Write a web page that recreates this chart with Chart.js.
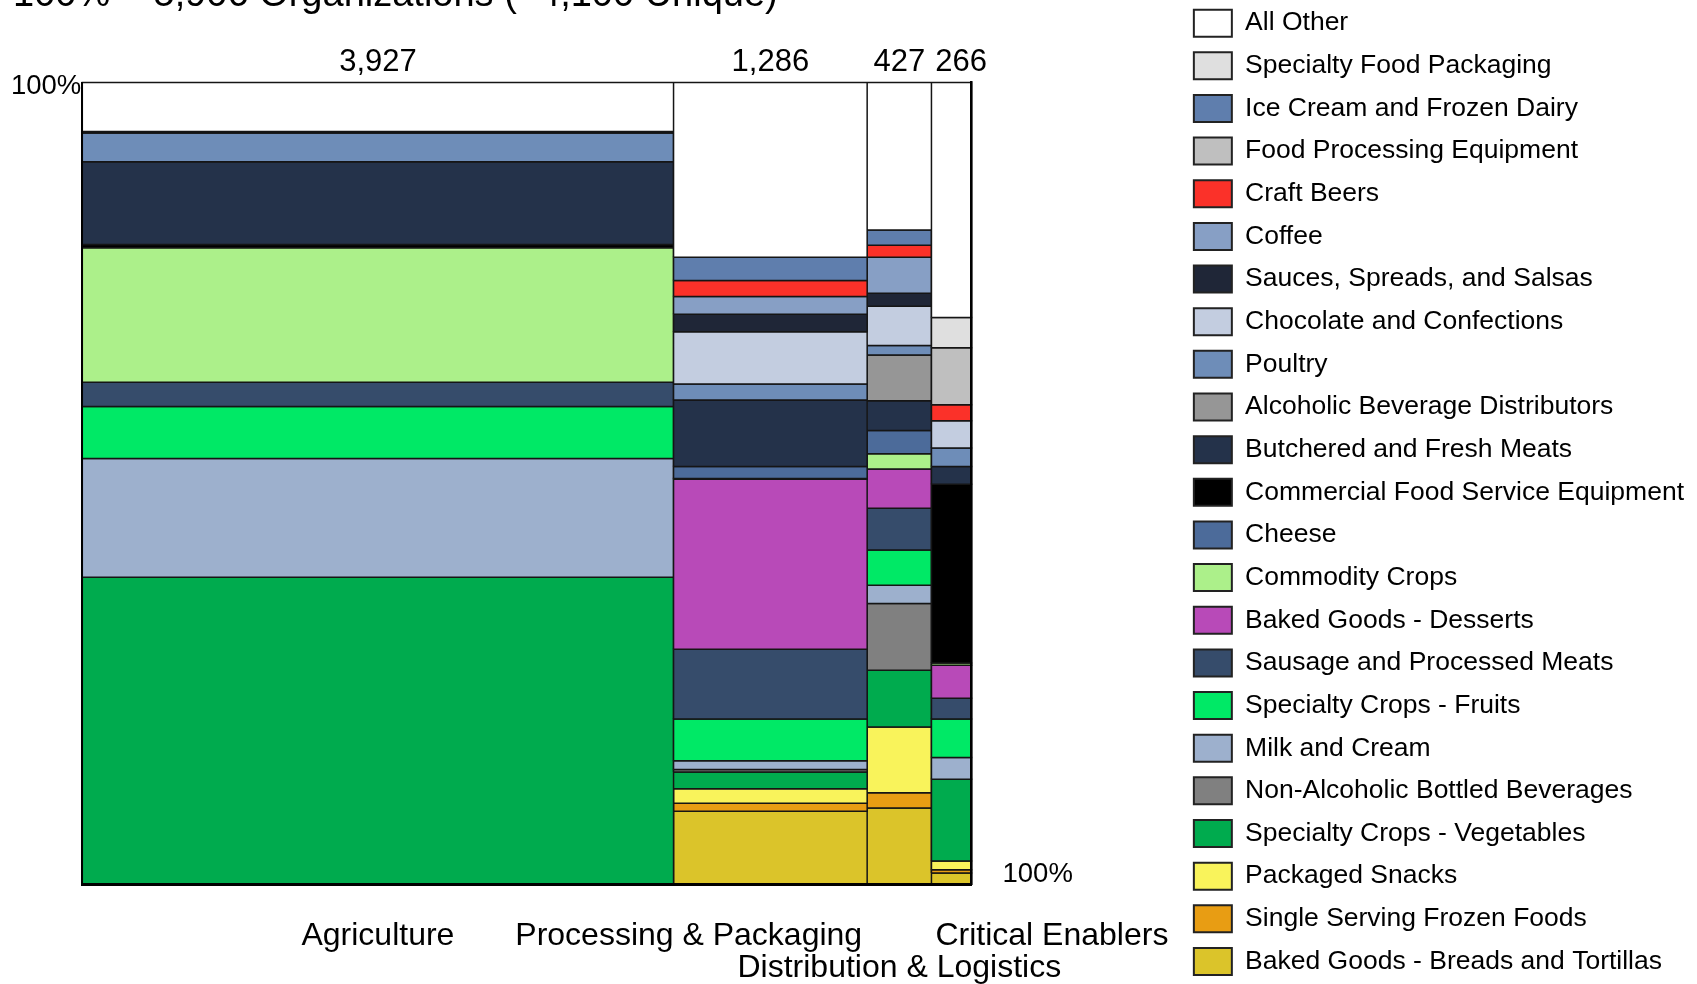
<!DOCTYPE html>
<html>
<head>
<meta charset="utf-8">
<title>Organizations by sector and product category</title>
<script src="https://cdn.jsdelivr.net/npm/chart.js@4.4.1/dist/chart.umd.min.js"></script>
<style>
  html, body { margin: 0; padding: 0; background: #fff; overflow: hidden; }
  #wrap { position: absolute; left: 0; top: -8px; width: 1697px; height: 1000px; }
</style>
</head>
<body>
<div id="wrap"><canvas id="mekko" width="1697" height="1000"></canvas></div>
<script>
// ---- data ----
const titleText = '100% = 5,906 Organizations (~4,100 Unique)';
const sectors = ['Agriculture', 'Processing & Packaging', 'Distribution & Logistics', 'Critical Enablers'];
const orgCounts = [3927, 1286, 427, 266];

// legend order (top of each column first)
const categories = [
  'All Other',
  'Specialty Food Packaging',
  'Ice Cream and Frozen Dairy',
  'Food Processing Equipment',
  'Craft Beers',
  'Coffee',
  'Sauces, Spreads, and Salsas',
  'Chocolate and Confections',
  'Poultry',
  'Alcoholic Beverage Distributors',
  'Butchered and Fresh Meats',
  'Commercial Food Service Equipment',
  'Cheese',
  'Commodity Crops',
  'Baked Goods - Desserts',
  'Sausage and Processed Meats',
  'Specialty Crops - Fruits',
  'Milk and Cream',
  'Non-Alcoholic Bottled Beverages',
  'Specialty Crops - Vegetables',
  'Packaged Snacks',
  'Single Serving Frozen Foods',
  'Baked Goods - Breads and Tortillas'
];

// share of each sector (%), same order as categories
const agriculture  = [6.1, 0, 0, 0, 0, 0, 0.2, 0, 3.6, 0, 10.3, 0.4, 0, 16.8, 0, 3.0, 6.5, 14.8, 0, 38.3, 0, 0, 0];
const processing   = [21.8, 0, 2.9, 0, 2.0, 2.2, 2.2, 6.5, 2.0, 0, 8.3, 0, 1.5, 0.1, 21.2, 8.7, 5.2, 1.1, 0.3, 2.1, 1.8, 1.0, 9.1];
const distribution = [18.4, 0, 1.9, 0, 1.5, 4.5, 1.6, 4.9, 1.2, 5.7, 3.7, 0, 2.9, 1.9, 4.9, 5.2, 4.4, 2.3, 8.3, 7.1, 8.2, 1.9, 9.5];
const enablers     = [29.3, 3.8, 0, 7.1, 2.0, 0, 0, 3.4, 2.3, 0, 2.2, 22.3, 0, 0.3, 4.1, 2.6, 4.8, 2.7, 0, 10.2, 1.1, 0.4, 1.4];

const colors = [
  '#ffffff', '#dfdfdf', '#5f7ead', '#bfbfbf', '#fb3129', '#879fc5', '#1f2637', '#c3cde0',
  '#6e8db8', '#969696', '#24324a', '#000000', '#4c6b9a', '#acf08a', '#b84ab8', '#364c6b',
  '#00e966', '#9db0cd', '#808080', '#00ab4e', '#f9f35b', '#e89d13', '#dbc42a'
];

// ---- layout (canvas px, canvas sits 8px above the page) ----
const CANVAS_H = 1000;
const PAD_TOP = 2;
const PLOT_LEFT = 82.3;
const PLOT_TOP = 90.5;
const PLOT_BOTTOM = 892.2;
const PLOT_RIGHT = 971.5;
const FONT = "'Liberation Sans', Arial, sans-serif";

const shares = [agriculture, processing, distribution, enablers];
const xStarts = [];
let totalOrgs = 0;
for (let c = 0; c < orgCounts.length; c++) {
    xStarts.push(totalOrgs);
    totalOrgs += orgCounts[c];
}

// one dataset per category, one closed rectangle per sector
const datasets = categories.map(function (name, k) {
    const pts = [];
    shares.forEach(function (col, c) {
        const v = col[k];
        if (!v) return;
        let below = 0;
        for (let j = k + 1; j < col.length; j++) below += col[j];
        const x0 = xStarts[c];
        const x1 = x0 + orgCounts[c];
        pts.push({x: x0, y: below}, {x: x0, y: below + v}, {x: x1, y: below + v},
                 {x: x1, y: below}, {x: x0, y: below}, {x: x1, y: null});
    });
    return {
        label: name,
        data: pts,
        xAxisID: 'x',
        yAxisID: 'y',
        backgroundColor: colors[k],
        borderColor: '#151515',
        borderWidth: 1.5,
        borderJoinStyle: 'miter',
        fill: 'shape',
        spanGaps: false,
        tension: 0,
        pointRadius: 0,
        pointHoverRadius: 0,
        clip: false
    };
});

const sectorLabelPlace = [
    {align: 'center', row: 0},
    {align: 'right', row: 0},
    {align: 'center', row: 1},
    {align: 'left', row: 0}
];

const mekkoText = {
    id: 'mekkoText',
    afterDraw(chart) {
        const ctx = chart.ctx;
        const area = chart.chartArea;
        const x = chart.scales.x;
        ctx.save();
        ctx.fillStyle = '#000';
        ctx.textBaseline = 'alphabetic';

        ctx.font = '38px ' + FONT;
        ctx.textAlign = 'left';
        ctx.fillText(titleText, 13, 14);

        ctx.font = '27.5px ' + FONT;
        ctx.textAlign = 'right';
        ctx.fillText('100%', area.left - 1, area.top + 11);
        ctx.textAlign = 'left';
        ctx.fillText('100%', area.right + 31, area.bottom - 2);

        // totals above the columns, pushed right if they would collide
        ctx.font = '31px ' + FONT;
        let prevRight = -Infinity;
        orgCounts.forEach(function (n, c) {
            const x0 = x.getPixelForValue(xStarts[c]);
            const x1 = x.getPixelForValue(xStarts[c] + n);
            const txt = n.toLocaleString('en-US');
            const w = ctx.measureText(txt).width;
            let left = (x0 + x1) / 2 - w / 2;
            if (left < prevRight + 10) left = prevRight + 10;
            ctx.fillText(txt, left, area.top - 11.5);
            prevRight = left + w;
        });

        ctx.font = '32px ' + FONT;
        sectors.forEach(function (name, c) {
            const x0 = x.getPixelForValue(xStarts[c]);
            const x1 = x.getPixelForValue(xStarts[c] + orgCounts[c]);
            const place = sectorLabelPlace[c];
            let tx = (x0 + x1) / 2;
            if (place.align === 'right') tx = x1 - 5;
            if (place.align === 'left') tx = x0 + 4;
            ctx.textAlign = place.align;
            ctx.fillText(name, tx, area.bottom + 61 + place.row * 32);
        });
        ctx.restore();
    }
};

const hidden = {grid: {display: false}, ticks: {display: false}};

new Chart(document.getElementById('mekko'), {
    type: 'line',
    data: {datasets: datasets},
    options: {
        responsive: false,
        animation: false,
        devicePixelRatio: 1,
        events: [],
        layout: {padding: {right: 3, top: PAD_TOP}},
        font: {family: FONT},
        scales: {
            x: Object.assign({
                type: 'linear', position: 'bottom', min: 0, max: totalOrgs,
                border: {display: true, color: '#000', width: 3, z: 1},
                afterFit: function (s) { s.height = CANVAS_H - PLOT_BOTTOM; }
            }, hidden),
            xTop: Object.assign({
                type: 'linear', position: 'top',
                border: {display: false},
                afterFit: function (s) { s.height = PLOT_TOP - PAD_TOP; }
            }, hidden),
            y: Object.assign({
                type: 'linear', position: 'left', min: 0, max: 100,
                border: {display: true, color: '#000', width: 2, z: 1},
                afterFit: function (s) { s.width = PLOT_LEFT; }
            }, hidden),
            yRight: Object.assign({
                type: 'linear', position: 'right',
                border: {display: true, color: '#000', width: 2.5, z: 1},
                afterFit: function (s) { s.width = s.chart.width - 3 - s.chart.legend.width - PLOT_RIGHT; }
            }, hidden)
        },
        plugins: {
            tooltip: {enabled: false},
            legend: {
                position: 'right',
                align: 'start',
                maxWidth: 640,
                labels: {
                    color: '#000',
                    font: {family: FONT, size: 26.5},
                    boxWidth: 38,
                    boxHeight: 27,
                    padding: 15.65,
                    generateLabels: function (chart) {
                        const items = Chart.defaults.plugins.legend.labels.generateLabels(chart);
                        items.forEach(function (it) { it.lineWidth = 2; it.strokeStyle = '#222'; });
                        return items;
                    }
                }
            }
        }
    },
    plugins: [mekkoText]
});
</script>
</body>
</html>
